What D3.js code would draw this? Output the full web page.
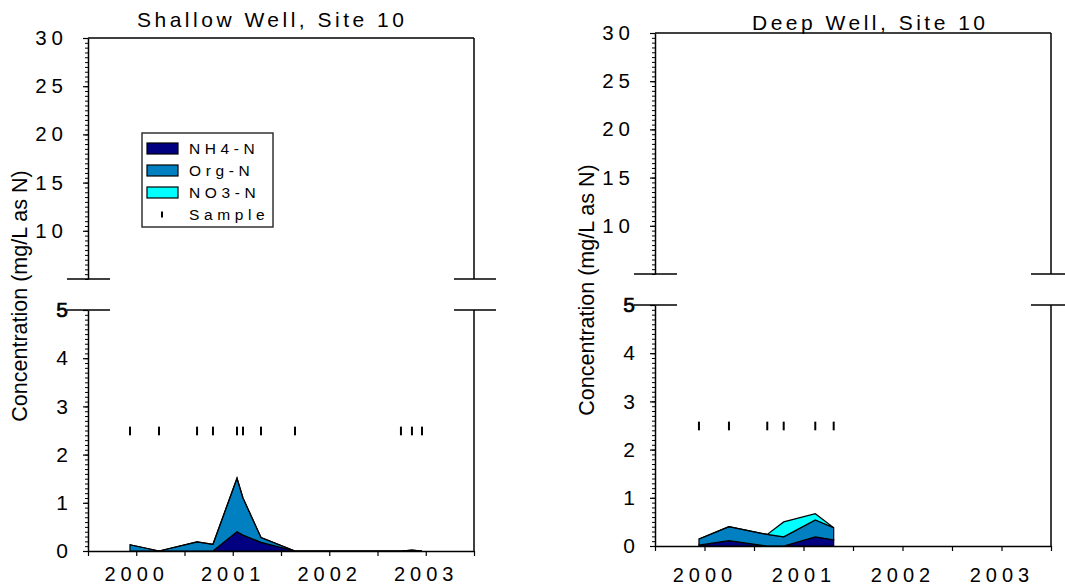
<!DOCTYPE html>
<html>
<head>
<meta charset="utf-8">
<script src="https://cdn.jsdelivr.net/npm/d3@7"></script>
<style>
  html, body { margin: 0; padding: 0; background: #fff; }
  svg { display: block; font-family: "Liberation Sans", Arial, sans-serif; }
</style>
</head>
<body>
<svg id="chart" width="1065" height="588"></svg>
<script>
// ---- data: sampling dates (decimal years) and concentrations (mg/L as N) ----
const seriesKeys = ["NH4-N", "Org-N", "NO3-N"];
const seriesColors = ["#000080", "#0080c0", "#00ffff"];
const legendLabels = ["NH4-N", "Org-N", "NO3-N", "Sample"];

const shallowTitle = "Shallow Well, Site 10";
const shallowDates = [1999.935, 2000.236, 2000.630, 2000.795, 2001.044, 2001.106, 2001.293, 2001.645, 2002.743, 2002.857, 2002.961];
const shallowNH4   = [0.00, 0.00, 0.00, 0.00, 0.40, 0.33, 0.18, 0.00, 0.00, 0.00, 0.00];
const shallowOrg   = [0.13, 0.00, 0.19, 0.14, 1.11, 0.77, 0.10, 0.00, 0.00, 0.02, 0.00];
const shallowNO3   = [0.00, 0.00, 0.00, 0.00, 0.00, 0.00, 0.00, 0.00, 0.00, 0.00, 0.00];

const deepTitle = "Deep Well, Site 10";
const deepDates = [1999.944, 2000.247, 2000.634, 2000.800, 2001.119, 2001.305];
const deepNH4   = [0.02, 0.11, 0.00, 0.00, 0.19, 0.13];
const deepOrg   = [0.125, 0.29, 0.24, 0.19, 0.35, 0.25];
const deepNO3   = [0.00, 0.00, 0.00, 0.31, 0.13, 0.00];

const sampleLevel = [2.40, 2.58];          // vertical extent of the sample markers
const xDomain = [1999.5, 2003.5];
const yearTicks = [2000, 2001, 2002, 2003];
const halfYearTicks = [1999.5, 2000, 2000.5, 2001, 2001.5, 2002, 2002.5, 2003, 2003.5];
const upperDomain = [5, 30];
const upperTicks = [10, 15, 20, 25, 30];
const lowerDomain = [0, 5];
const lowerTicks = [0, 1, 2, 3, 4, 5];
const yTitle = "Concentration (mg/L as N)";

const svg = d3.select("#chart");
svg.append("rect").attr("width", 1065).attr("height", 588).attr("fill", "#fff");
const FONT = "Liberation Sans, Arial, sans-serif";

function drawPanel(p) {
  const g = svg.append("g");
  const x = d3.scaleLinear().domain(xDomain).range([p.left, p.right]);
  const yU = d3.scaleLinear().domain(upperDomain).range([p.breakY, p.top]);
  const yL = d3.scaleLinear().domain(lowerDomain).range([p.bottom, p.lowTop]);

  // stacked areas
  const rows = p.dates.map((d, i) => ({ date: d, "NH4-N": p.nh4[i], "Org-N": p.org[i], "NO3-N": p.no3[i] }));
  const stacked = d3.stack().keys(seriesKeys)(rows);
  const area = d3.area()
    .x(d => x(d.data.date))
    .y0(d => yL(d[0]))
    .y1(d => yL(d[1]));
  g.selectAll("path.layer").data(stacked).join("path")
    .attr("class", "layer")
    .attr("d", area)
    .attr("fill", (d, i) => seriesColors[i])
    .attr("stroke", "#000")
    .attr("stroke-width", 1.2)
    .attr("stroke-linejoin", "miter");

  // sample markers
  g.selectAll("line.sample").data(p.dates).join("line")
    .attr("class", "sample")
    .attr("x1", d => x(d)).attr("x2", d => x(d))
    .attr("y1", yL(sampleLevel[0])).attr("y2", yL(sampleLevel[1]))
    .attr("stroke", "#000").attr("stroke-width", 2);

  // upper y axis: minor then major ticks
  g.append("g").attr("transform", `translate(${p.left},0)`)
    .call(d3.axisLeft(yU).tickValues(d3.range(5, 30.01, 0.5)).tickSize(3).tickSizeOuter(0).tickFormat(""))
    .call(a => a.selectAll("line").attr("stroke", "#000").attr("stroke-width", 1))
    .call(a => a.select(".domain").attr("stroke-width", 1.5));
  const au = g.append("g").attr("transform", `translate(${p.left},0)`)
    .call(d3.axisLeft(yU).tickValues(upperTicks).tickSize(5).tickSizeOuter(0).tickPadding(15)
      .tickFormat(d3.format("d")))
    .call(a => a.select(".domain").remove());
  au.selectAll("line").attr("stroke", "#000").attr("stroke-width", 1.2);
  au.selectAll("text").attr("font-size", 20.5).attr("letter-spacing", 5).attr("fill", "#000")
    .attr("font-family", FONT);

  // lower y axis
  g.append("g").attr("transform", `translate(${p.left},0)`)
    .call(d3.axisLeft(yL).tickValues(d3.range(0, 5.001, 0.1)).tickSize(3).tickSizeOuter(0).tickFormat(""))
    .call(a => a.selectAll("line").attr("stroke", "#000").attr("stroke-width", 1))
    .call(a => a.select(".domain").attr("stroke-width", 1.5));
  const al = g.append("g").attr("transform", `translate(${p.left},0)`)
    .call(d3.axisLeft(yL).tickValues(lowerTicks).tickSize(5).tickSizeOuter(0).tickPadding(15)
      .tickFormat(d3.format("d")))
    .call(a => a.select(".domain").remove());
  al.selectAll("line").attr("stroke", "#000").attr("stroke-width", 1.2);
  al.selectAll("text").attr("font-size", 21).attr("fill", "#000")
    .attr("font-family", FONT)
    .filter(d => d === 5).attr("stroke", "#000").attr("stroke-width", 0.7);

  // x axis: half-year ticks, year labels
  const ax = g.append("g").attr("transform", `translate(0,${p.bottom})`)
    .call(d3.axisBottom(x).tickValues(halfYearTicks).tickSize(5).tickSizeOuter(0).tickFormat(""));
  ax.select(".domain").attr("stroke-width", 1.5);
  ax.selectAll("line").attr("stroke", "#000").attr("stroke-width", 1.2);
  const axl = g.append("g").attr("transform", `translate(0,${p.bottom})`)
    .call(d3.axisBottom(x).tickValues(yearTicks).tickSize(0).tickFormat(d3.format("d")));
  axl.select(".domain").remove();
  axl.selectAll("text")
    .attr("y", p.xLabelBase - p.bottom).attr("dy", 0)
    .attr("font-size", 20).attr("letter-spacing", 5).attr("fill", "#000")
    .attr("font-family", FONT);

  // frame: top edge and right edge (both halves)
  g.append("line").attr("x1", p.left).attr("x2", p.right).attr("y1", p.top).attr("y2", p.top)
    .attr("stroke", "#000").attr("stroke-width", 1.5);
  g.append("line").attr("x1", p.right).attr("x2", p.right).attr("y1", p.top).attr("y2", p.breakY)
    .attr("stroke", "#000").attr("stroke-width", 1.5);
  g.append("line").attr("x1", p.right).attr("x2", p.right).attr("y1", p.lowTop).attr("y2", p.bottom)
    .attr("stroke", "#000").attr("stroke-width", 1.5);

  // axis break stubs
  [p.breakY, p.lowTop].forEach(yy => {
    [[p.left - 21, p.left + 22], [p.right - 20, p.right + 22]].forEach(([a, b]) => {
      g.append("line").attr("x1", a).attr("x2", b).attr("y1", yy).attr("y2", yy)
        .attr("stroke", "#000").attr("stroke-width", 1.5);
    });
  });

  // titles
  g.append("text").attr("x", p.titleX).attr("y", p.titleY)
    .attr("font-size", 21).attr("letter-spacing", 3.5).attr("fill", "#000")
    .text(p.title);
  g.append("text")
    .attr("transform", `translate(${p.yTitleX},${p.yTitleY}) rotate(-90)`)
    .attr("text-anchor", "middle").attr("font-size", 21.5).attr("fill", "#000")
    .text(yTitle);

  // legend
  if (p.legend) {
    const lg = g.append("g").attr("transform", `translate(${p.legend[0]},${p.legend[1]})`);
    lg.append("rect").attr("x", 0).attr("y", 0).attr("width", 131).attr("height", 94)
      .attr("fill", "#fff").attr("stroke", "#333").attr("stroke-width", 1.5);
    legendLabels.forEach((lab, i) => {
      const cy = 15.5 + i * 22;
      if (i < 3) {
        lg.append("rect").attr("x", 5).attr("y", cy - 5.5).attr("width", 31).attr("height", 11)
          .attr("fill", seriesColors[i]).attr("stroke", "#000").attr("stroke-width", 1.2);
      } else {
        lg.append("line").attr("x1", 20).attr("x2", 20).attr("y1", cy - 3).attr("y2", cy + 3)
          .attr("stroke", "#000").attr("stroke-width", 2);
      }
      lg.append("text").attr("x", 47).attr("y", cy + 5.5)
        .attr("font-size", 15.5).attr("letter-spacing", 4.6).attr("fill", "#000").text(lab);
    });
  }
}

drawPanel({
  title: shallowTitle, dates: shallowDates, nh4: shallowNH4, org: shallowOrg, no3: shallowNO3,
  left: 88, right: 474, top: 38, breakY: 279, lowTop: 310, bottom: 551,
  xLabelBase: 580.5, titleX: 137, titleY: 27, yTitleX: 27, yTitleY: 296, legend: [142, 133]
});
drawPanel({
  title: deepTitle, dates: deepDates, nh4: deepNH4, org: deepOrg, no3: deepNO3,
  left: 655, right: 1051, top: 33, breakY: 274, lowTop: 305, bottom: 546,
  xLabelBase: 581.5, titleX: 752, titleY: 29.5, yTitleX: 594, yTitleY: 290, legend: null
});
</script>
</body>
</html>
